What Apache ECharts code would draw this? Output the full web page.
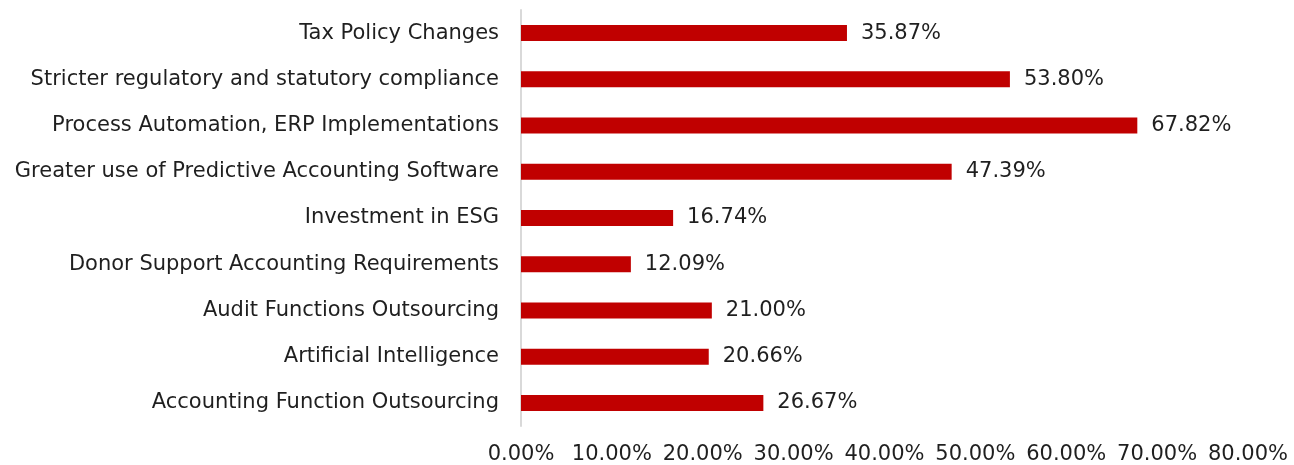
<!DOCTYPE html>
<html>
<head>
<meta charset="utf-8">
<script src="https://cdn.jsdelivr.net/npm/echarts@6/dist/echarts.min.js"></script>
<style>
  html, body { margin: 0; padding: 0; background: #fff; }
  #chart { width: 1294px; height: 465px; }
</style>
</head>
<body>
<div id="chart"></div>
<script>
// categories listed bottom to top (category axis starts at the bottom)
const categories = [
  'Accounting Function Outsourcing',
  'Artificial Intelligence',
  'Audit Functions Outsourcing',
  'Donor Support Accounting Requirements',
  'Investment in ESG',
  'Greater use of Predictive Accounting Software',
  'Process Automation, ERP Implementations',
  'Stricter regulatory and statutory compliance',
  'Tax Policy Changes',
]
const values = [26.67, 20.66, 21.00, 12.09, 16.74, 47.39, 67.82, 53.80, 35.87]

const chart = echarts.init(document.getElementById('chart'))
const font = '"DejaVu Sans", sans-serif'

const options = {
  animation: false,
  grid: {
    left: 521,
    right: 46,
    top: 10,
    bottom: 39,
  },
  xAxis: {
    type: 'value',
    min: 0,
    max: 80,
    interval: 10,
    splitLine: { show: false },
    axisLine: { show: false },
    axisTick: { show: false },
    axisLabel: {
      margin: 18,
      fontSize: 21,
      fontFamily: font,
      color: '#1f1f1f',
      formatter: (v) => v.toFixed(2) + '%',
    },
  },
  yAxis: {
    type: 'category',
    data: categories,
    axisTick: { show: false },
    axisLine: { lineStyle: { color: '#d9d9d9', width: 2 } },
    axisLabel: {
      margin: 22,
      fontSize: 21,
      fontFamily: font,
      color: '#1f1f1f',
      padding: [6, 0, 0, 0],
    },
  },
  series: [
    {
      type: 'bar',
      data: values,
      barWidth: 16,
      itemStyle: { color: '#c00000' },
      label: {
        show: true,
        position: 'right',
        distance: 14,
        fontSize: 21,
        fontFamily: font,
        color: '#1f1f1f',
        padding: [6, 0, 0, 0],
        formatter: (p) => p.value.toFixed(2) + '%',
      },
    },
  ],
}
chart.setOption(options, true)
</script>
</body>
</html>
